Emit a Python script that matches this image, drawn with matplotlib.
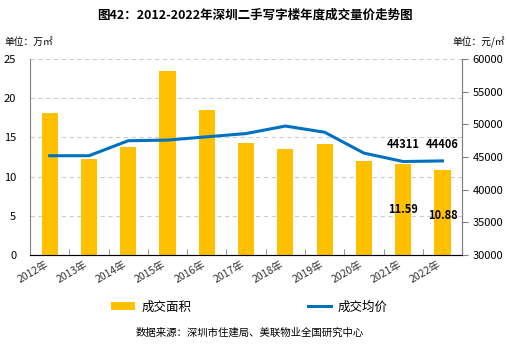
import matplotlib
matplotlib.use("Agg")
import matplotlib.pyplot as plt
import numpy as np

plt.rcParams['font.family'] = ['Noto Sans CJK SC', 'DejaVu Sans']

years = ["2012年", "2013年", "2014年", "2015年", "2016年", "2017年",
         "2018年", "2019年", "2020年", "2021年", "2022年"]
area = [18.1, 12.3, 13.8, 23.5, 18.5, 14.3, 13.5, 14.2, 12.0, 11.59, 10.88]
price = [45200, 45200, 47500, 47600, 48100, 48600, 49750, 48800, 45600, 44311, 44406]

bar_color = "#FFC000"
line_color = "#0070C0"

fig = plt.figure(figsize=(5.09, 3.44), dpi=100)
ax = fig.add_axes([0.059, 0.259, 0.849, 0.569])
x = np.arange(len(years))

ax.bar(x, area, width=0.41, color=bar_color, label="成交面积", zorder=2)
ax.set_ylim(0, 25)
ax.set_yticks(range(0, 26, 5))
ax.set_xlim(-0.5, len(years) - 0.5)
ax.yaxis.grid(True, linestyle=(0, (4, 3)), color="#CCCCCC", linewidth=0.8, zorder=0)
ax.set_axisbelow(True)
ax.set_xticks(x)
ax.set_xticklabels(years, rotation=30, ha="right", fontsize=7.5, color="#333333")
ax.tick_params(axis="x", length=0, pad=3)
ax.set_xticks(np.arange(-0.5, len(years), 1), minor=True)
ax.tick_params(axis="x", which="minor", direction="in", length=4, color="#808080")
ax.tick_params(axis="y", length=0, labelsize=8, pad=10)
ax.spines["top"].set_visible(False)
for s in ["left", "bottom", "right"]:
    ax.spines[s].set_color("#808080")

ax2 = ax.twinx()
ax2.plot(x, price, color=line_color, linewidth=2.2, label="成交均价", zorder=3)
ax2.set_ylim(30000, 60000)
ax2.set_yticks(range(30000, 60001, 5000))
ax2.tick_params(axis="y", direction="out", length=4, color="#808080", labelsize=8)
ax2.spines["top"].set_visible(False)
ax2.spines["right"].set_color("#808080")
ax2.spines["left"].set_visible(False)

for i in [9, 10]:
    ax2.annotate(str(price[i]), (x[i], price[i]), xytext=(0, 12), textcoords="offset points",
                 ha="center", va="center", fontsize=8, fontweight="bold")
    ax.annotate(f"{area[i]:.2f}", (x[i], area[i]), xytext=(0, -33), textcoords="offset points",
                ha="center", va="center", fontsize=8, fontweight="bold")

fig.text(0.5, 0.956, "图42：2012-2022年深圳二手写字楼年度成交量价走势图", ha="center", va="center",
         fontsize=9, fontweight="bold")
fig.text(0.008, 0.878, "单位：万㎡", ha="left", va="center", fontsize=7)
fig.text(0.992, 0.878, "单位：元/㎡", ha="right", va="center", fontsize=7)

h1, l1 = ax.get_legend_handles_labels()
h2, l2 = ax2.get_legend_handles_labels()
fig.legend(h1 + h2, l1 + l2, loc="center", bbox_to_anchor=(0.49, 0.108), ncol=2,
           frameon=False, fontsize=9, columnspacing=9.3, handlelength=1.9,
           handleheight=0.55, handletextpad=0.5)
fig.text(0.49, 0.033, "数据来源：深圳市住建局、美联物业全国研究中心", ha="center", va="center",
         fontsize=7.5)

fig.savefig("out.png", dpi=100)
